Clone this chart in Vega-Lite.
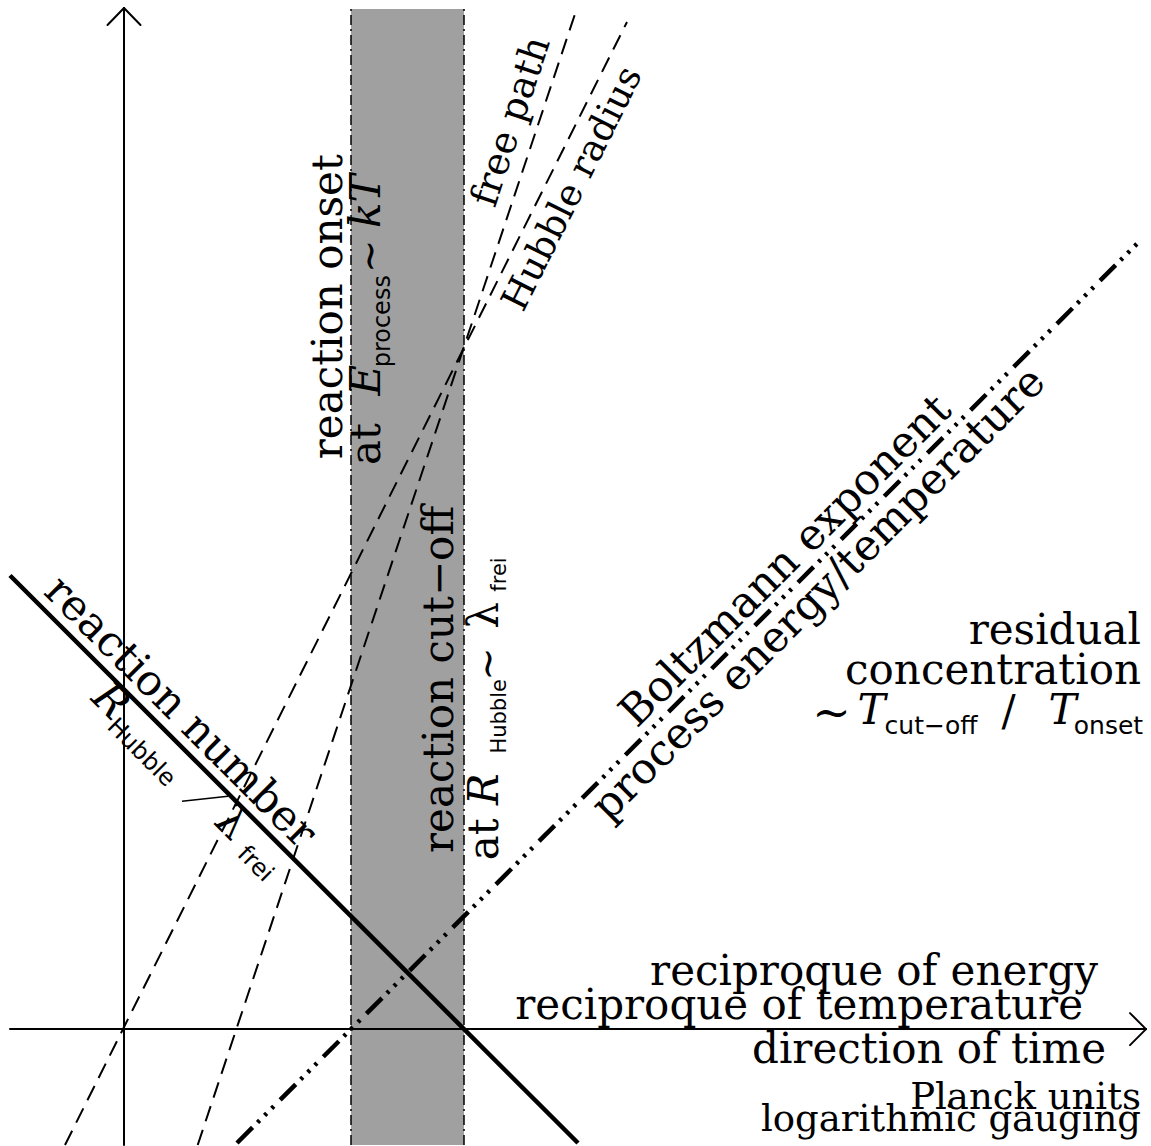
{
  "$schema": "https://vega.github.io/schema/vega-lite/v6.json",
  "width": 1151,
  "height": 1146,
  "padding": 0,
  "autosize": {"type": "fit", "contains": "padding"},
  "background": "white",
  "config": {"view": {"stroke": null}, "text": {"font": "DejaVu Serif", "color": "black"}},
  "layer": [
    {
      "data": {"values": [{"X": 227, "X2": 340, "Y": -116, "Y2": 1021}]},
      "mark": {"type": "rect", "color": "#a0a0a0"},
      "encoding": {
        "x": {"field": "X", "type": "quantitative", "scale": {"domain": [-124, 1027], "nice": false, "zero": false}, "axis": null},
        "x2": {"field": "X2"},
        "y": {"field": "Y", "type": "quantitative", "scale": {"domain": [-116, 1030], "nice": false, "zero": false}, "axis": null},
        "y2": {"field": "Y2"}
      }
    },
    {
      "data": {"values": [
        {"X": 227, "Y": -116, "X2": 227, "Y2": 1021},
        {"X": 340, "Y": -116, "X2": 340, "Y2": 1021}
      ]},
      "mark": {"type": "rule", "color": "black", "strokeWidth": 1.5, "strokeDash": [10, 4, 2, 4]},
      "encoding": {
        "x": {"field": "X", "type": "quantitative"}, "x2": {"field": "X2"},
        "y": {"field": "Y", "type": "quantitative"}, "y2": {"field": "Y2"}
      }
    },
    {
      "data": {"values": [
        {"X": 0, "Y": -116, "X2": 0, "Y2": 1022},
        {"X": -16.5, "Y": 1005, "X2": 0, "Y2": 1022},
        {"X": 16.5, "Y": 1005, "X2": 0, "Y2": 1022},
        {"X": -114, "Y": 0, "X2": 1022, "Y2": 0},
        {"X": 1006, "Y": 16, "X2": 1022, "Y2": 0},
        {"X": 1006, "Y": -16, "X2": 1022, "Y2": 0}
      ]},
      "mark": {"type": "rule", "color": "black", "strokeWidth": 2, "strokeCap": "round"},
      "encoding": {
        "x": {"field": "X", "type": "quantitative"}, "x2": {"field": "X2"},
        "y": {"field": "Y", "type": "quantitative"}, "y2": {"field": "Y2"}
      }
    },
    {
      "data": {"values": [{"X": 58, "Y": 228, "X2": 104, "Y2": 233}]},
      "mark": {"type": "rule", "color": "black", "strokeWidth": 1.5},
      "encoding": {
        "x": {"field": "X", "type": "quantitative"}, "x2": {"field": "X2"},
        "y": {"field": "Y", "type": "quantitative"}, "y2": {"field": "Y2"}
      }
    },
    {
      "data": {"values": [
        {"X": -59, "Y": -116, "X2": 503, "Y2": 1008},
        {"X": 73.7, "Y": -116, "X2": 453, "Y2": 1022}
      ]},
      "mark": {"type": "rule", "color": "black", "strokeWidth": 2, "strokeDash": [16, 9]},
      "encoding": {
        "x": {"field": "X", "type": "quantitative"}, "x2": {"field": "X2"},
        "y": {"field": "Y", "type": "quantitative"}, "y2": {"field": "Y2"}
      }
    },
    {
      "data": {"values": [{"X": -114, "Y": 454, "X2": 454, "Y2": -114}]},
      "mark": {"type": "rule", "color": "black", "strokeWidth": 4.5},
      "encoding": {
        "x": {"field": "X", "type": "quantitative"}, "x2": {"field": "X2"},
        "y": {"field": "Y", "type": "quantitative"}, "y2": {"field": "Y2"}
      }
    },
    {
      "data": {"values": [{"X": 113, "Y": -114, "X2": 1016, "Y2": 789}]},
      "mark": {"type": "rule", "color": "black", "strokeWidth": 4.5, "strokeDash": [22, 7, 3, 7, 3, 7, 3, 9]},
      "encoding": {
        "x": {"field": "X", "type": "quantitative"}, "x2": {"field": "X2"},
        "y": {"field": "Y", "type": "quantitative"}, "y2": {"field": "Y2"}
      }
    },
    {
      "data": {"values": [
        {"X": 205.4, "Y": 723, "label": "reaction onset"},
        {"X": 243.4, "Y": 585.5, "label": "at"},
        {"X": 316.4, "Y": 350, "label": "reaction cut−off"},
        {"X": 361.4, "Y": 190, "label": "at"},
        {"X": 361.4, "Y": 414, "label": "λ"}
      ]},
      "mark": {"type": "text", "fontSize": 42, "angle": -90, "align": "center", "baseline": "middle"},
      "encoding": {
        "x": {"field": "X", "type": "quantitative"},
        "y": {"field": "Y", "type": "quantitative"},
        "text": {"field": "label"}
      }
    },
    {
      "data": {"values": [
        {"X": 243.4, "Y": 649.5, "label": "E"},
        {"X": 243.4, "Y": 828.5, "label": "kT"},
        {"X": 361.4, "Y": 240, "label": "R"}
      ]},
      "mark": {"type": "text", "fontSize": 42, "fontStyle": "italic", "angle": -90, "align": "center", "baseline": "middle"},
      "encoding": {
        "x": {"field": "X", "type": "quantitative"},
        "y": {"field": "Y", "type": "quantitative"},
        "text": {"field": "label"}
      }
    },
    {
      "data": {"values": [
        {"X": 258.8, "Y": 708.5, "label": "process"}
      ]},
      "mark": {"type": "text", "font": "DejaVu Sans", "fontSize": 24, "angle": -90, "align": "center", "baseline": "middle"},
      "encoding": {
        "x": {"field": "X", "type": "quantitative"},
        "y": {"field": "Y", "type": "quantitative"},
        "text": {"field": "label"}
      }
    },
    {
      "data": {"values": [
        {"X": 376.4, "Y": 313, "label": "Hubble"},
        {"X": 376.4, "Y": 455, "label": "frei"}
      ]},
      "mark": {"type": "text", "font": "DejaVu Sans", "fontSize": 21, "angle": -90, "align": "center", "baseline": "middle"},
      "encoding": {
        "x": {"field": "X", "type": "quantitative"},
        "y": {"field": "Y", "type": "quantitative"},
        "text": {"field": "label"}
      }
    },
    {
      "data": {"values": [
        {"X": 247, "Y": 773.5, "label": "∼"},
        {"X": 365, "Y": 365.5, "label": "∼"}
      ]},
      "mark": {"type": "text", "fontSize": 40, "angle": -90, "align": "center", "baseline": "middle"},
      "encoding": {
        "x": {"field": "X", "type": "quantitative"},
        "y": {"field": "Y", "type": "quantitative"},
        "text": {"field": "label"}
      }
    },
    {
      "data": {"values": [{"X": 388, "Y": 908, "label": "free path"}]},
      "mark": {"type": "text", "fontSize": 38, "angle": -71.6, "align": "center", "baseline": "middle"},
      "encoding": {
        "x": {"field": "X", "type": "quantitative"},
        "y": {"field": "Y", "type": "quantitative"},
        "text": {"field": "label"}
      }
    },
    {
      "data": {"values": [{"X": 449, "Y": 841, "label": "Hubble radius"}]},
      "mark": {"type": "text", "fontSize": 37, "angle": -63.4, "align": "center", "baseline": "middle"},
      "encoding": {
        "x": {"field": "X", "type": "quantitative"},
        "y": {"field": "Y", "type": "quantitative"},
        "text": {"field": "label"}
      }
    },
    {
      "data": {"values": [
        {"X": 56, "Y": 317, "label": "reaction number"},
        {"X": 107, "Y": 206, "label": "λ"}
      ]},
      "mark": {"type": "text", "fontSize": 43, "angle": 45, "align": "center", "baseline": "middle"},
      "encoding": {
        "x": {"field": "X", "type": "quantitative"},
        "y": {"field": "Y", "type": "quantitative"},
        "text": {"field": "label"}
      }
    },
    {
      "data": {"values": [{"X": -14, "Y": 328, "label": "R"}]},
      "mark": {"type": "text", "fontSize": 42, "fontStyle": "italic", "angle": 45, "align": "center", "baseline": "middle"},
      "encoding": {
        "x": {"field": "X", "type": "quantitative"},
        "y": {"field": "Y", "type": "quantitative"},
        "text": {"field": "label"}
      }
    },
    {
      "data": {"values": [
        {"X": 17, "Y": 276.5, "label": "Hubble"},
        {"X": 131, "Y": 165, "label": "frei"}
      ]},
      "mark": {"type": "text", "font": "DejaVu Sans", "fontSize": 24, "angle": 45, "align": "center", "baseline": "middle"},
      "encoding": {
        "x": {"field": "X", "type": "quantitative"},
        "y": {"field": "Y", "type": "quantitative"},
        "text": {"field": "label"}
      }
    },
    {
      "data": {"values": [
        {"X": 662, "Y": 468, "label": "Boltzmann exponent"},
        {"X": 695, "Y": 435, "label": "process energy/temperature"}
      ]},
      "mark": {"type": "text", "fontSize": 43, "angle": -45, "align": "center", "baseline": "middle"},
      "encoding": {
        "x": {"field": "X", "type": "quantitative"},
        "y": {"field": "Y", "type": "quantitative"},
        "text": {"field": "label"}
      }
    },
    {
      "data": {"values": [
        {"X": 1017, "Y": 385, "label": "residual"},
        {"X": 1017, "Y": 345, "label": "concentration"},
        {"X": 974, "Y": 44, "label": "reciproque of energy"},
        {"X": 959, "Y": 10, "label": "reciproque of temperature"},
        {"X": 982, "Y": -34, "label": "direction of time"}
      ]},
      "mark": {"type": "text", "fontSize": 42, "align": "right", "baseline": "alphabetic"},
      "encoding": {
        "x": {"field": "X", "type": "quantitative"},
        "y": {"field": "Y", "type": "quantitative"},
        "text": {"field": "label"}
      }
    },
    {
      "data": {"values": [
        {"X": 1017, "Y": -80, "label": "Planck units"},
        {"X": 1017, "Y": -102, "label": "logarithmic gauging"}
      ]},
      "mark": {"type": "text", "fontSize": 37, "align": "right", "baseline": "alphabetic"},
      "encoding": {
        "x": {"field": "X", "type": "quantitative"},
        "y": {"field": "Y", "type": "quantitative"},
        "text": {"field": "label"}
      }
    },
    {
      "data": {"values": [
        {"X": 747.5, "Y": 305, "label": "T"},
        {"X": 938.5, "Y": 305, "label": "T"}
      ]},
      "mark": {"type": "text", "fontSize": 42, "fontStyle": "italic", "align": "center", "baseline": "alphabetic"},
      "encoding": {
        "x": {"field": "X", "type": "quantitative"},
        "y": {"field": "Y", "type": "quantitative"},
        "text": {"field": "label"}
      }
    },
    {
      "data": {"values": [
        {"X": 807, "Y": 295, "label": "cut−off"},
        {"X": 984.5, "Y": 295, "label": "onset"}
      ]},
      "mark": {"type": "text", "font": "DejaVu Sans", "fontSize": 25, "align": "center", "baseline": "alphabetic"},
      "encoding": {
        "x": {"field": "X", "type": "quantitative"},
        "y": {"field": "Y", "type": "quantitative"},
        "text": {"field": "label"}
      }
    },
    {
      "data": {"values": [{"X": 707.5, "Y": 315, "label": "∼"}]},
      "mark": {"type": "text", "fontSize": 46, "align": "center", "baseline": "middle"},
      "encoding": {
        "x": {"field": "X", "type": "quantitative"},
        "y": {"field": "Y", "type": "quantitative"},
        "text": {"field": "label"}
      }
    },
    {
      "data": {"values": [{"X": 884.5, "Y": 317, "label": "/"}]},
      "mark": {"type": "text", "fontSize": 42, "align": "center", "baseline": "middle"},
      "encoding": {
        "x": {"field": "X", "type": "quantitative"},
        "y": {"field": "Y", "type": "quantitative"},
        "text": {"field": "label"}
      }
    }
  ]
}
